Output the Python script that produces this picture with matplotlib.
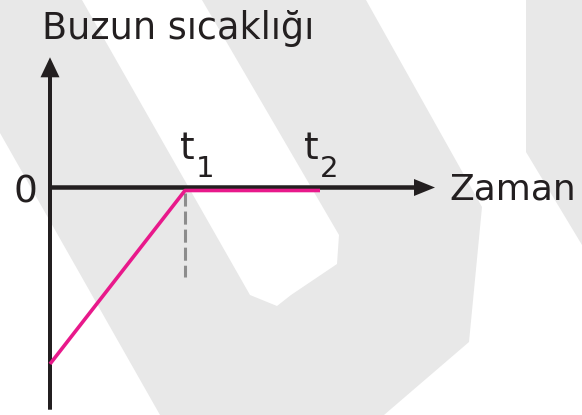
import matplotlib
matplotlib.use("Agg")
import matplotlib.pyplot as plt
import matplotlib.transforms as mtransforms

# zaman ekseni (t1 = 1, t2 = 2) ve buzun sıcaklığı (0 erime noktası)
time = [0, 1, 2]
temperature = [-1.285, 0, 0]
tick_times = [1, 2]
tick_subs = ["1", "2"]
y_label = "Buzun sıcaklığı"
x_label = "Zaman"
zero_label = "0"

# arka plandaki gri filigran şekilleri (piksel)
wm_left = [(0, 0), (82, 0), (250, 295), (277, 306), (291, 295), (337, 264),
           (339, 235), (202, 0), (366, 0), (482, 207), (469, 342), (384, 415),
           (160, 415), (0, 133)]
wm_right = [(526, 0), (582, 0), (582, 245), (526, 152)]

W, H = 582, 415
PX = 135.0          # piksel / birim
X0, Y0 = 50, 187.5  # orijin (piksel)
INK = "#231f20"
PINK = "#e8198b"
FONT = "DejaVu Sans"


def main():
    plt.rcParams["lines.scale_dashes"] = False
    fig = plt.figure(figsize=(W / 100, H / 100), dpi=100)

    bg = fig.add_axes([0, 0, 1, 1], zorder=0)
    bg.set_xlim(0, W)
    bg.set_ylim(H, 0)
    bg.axis("off")
    for poly in (wm_left, wm_right):
        xs, ys = zip(*poly)
        bg.fill(xs, ys, color="#e8e8e8", lw=0)

    ax = fig.add_axes([0, 0, 1, 1], zorder=1)
    ax.set_xlim(-X0 / PX, (W - X0) / PX)
    ax.set_ylim(-(H - Y0) / PX, Y0 / PX)
    ax.axis("off")

    # eksen okları
    ax.arrow(0, -(409.7 - Y0) / PX, 0, (409.7 - 57.3) / PX, width=4 / PX,
             head_width=19 / PX, head_length=20 / PX,
             length_includes_head=True, fc=INK, ec="none", lw=0, zorder=3)
    ax.arrow(0, 0, (435 - X0) / PX, 0, width=4.5 / PX,
             head_width=17 / PX, head_length=21 / PX,
             length_includes_head=True, fc=INK, ec="none", lw=0, zorder=3)

    # t1 kesikli çizgi
    ax.plot([time[1], time[1]], [-0.04, -(277 - Y0) / PX], color="#8c8c8c",
            lw=2.2, dashes=(9.4, 3.6), zorder=2)

    # sıcaklık grafiği
    shift = mtransforms.offset_copy(ax.transData, fig=fig, x=0, y=-3,
                                    units="dots")
    ax.plot(time, temperature, color=PINK, lw=2.6, transform=shift,
            solid_capstyle="butt", zorder=4)

    # yazılar
    ax.text(-8 / PX, (Y0 - 38.5) / PX, y_label, family=FONT, size=26.3,
            color=INK, ha="left", va="baseline")
    ax.text(-24.5 / PX, (Y0 - 202.5) / PX, zero_label, family=FONT, size=27,
            color=INK, ha="center", va="baseline")
    ax.text((449 - X0) / PX, (Y0 - 199.3) / PX, x_label, family=FONT,
            size=26, color=INK, ha="left", va="baseline")

    t_dx = [-5, -16]
    s_dx = [11, 0]
    for t, sub, dx, sx in zip(tick_times, tick_subs, t_dx, s_dx):
        ax.text(t + dx / PX, (Y0 - 159) / PX, "t", family=FONT, size=27,
                color=INK, ha="left", va="baseline")
        ax.text(t + sx / PX, (Y0 - 177) / PX, sub, family=FONT, size=21,
                color=INK, ha="left", va="baseline")

    fig.savefig("out.png", dpi=100, facecolor="white")


if __name__ == "__main__":
    main()
